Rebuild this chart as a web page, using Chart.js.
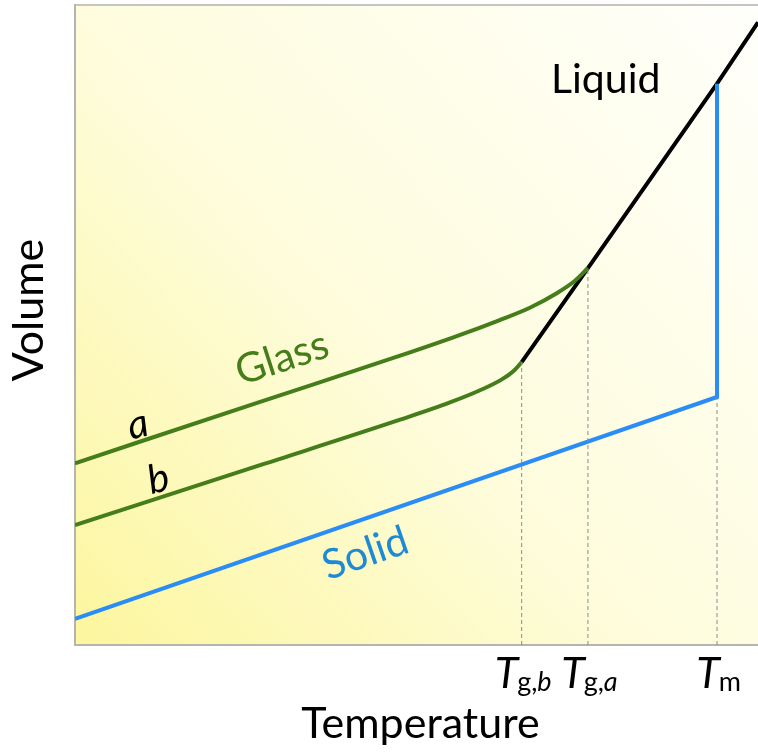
<!DOCTYPE html>
<html>
<head>
<meta charset="utf-8">
<title>Volume vs Temperature</title>
<script src="https://cdn.jsdelivr.net/npm/chart.js@4/dist/chart.umd.min.js"></script>
<style>
  html, body { margin: 0; padding: 0; background: #fff; }
  #wrap { width: 758px; height: 752px; }
</style>
</head>
<body>
<div id="wrap"><canvas id="vt_chart" width="758" height="752"></canvas></div>
<script>
// temperature / volume in arbitrary units (0..100 on both axes)
const tickTemps = [65.4, 75.1, 94.0];            // Tg,b  Tg,a  Tm
const solidT  = [0, 94.0, 94.0];
const solidV  = [4.1, 38.75, 87.7];
const liquidT = [65.4, 75.1, 94.0, 100];
const liquidV = [44.2, 58.9, 87.7, 97.3];
const glassAT = [0, 27.1, 47.6, 56.0, 62.0, 66.6, 70.6, 73.2, 75.1];
const glassAV = [28.4, 38.0, 45.2, 48.3, 50.7, 52.7, 55.0, 56.9, 58.9];
const glassBT = [0, 27.1, 47.6, 54.9, 59.3, 62.5, 64.3, 65.4];
const glassBV = [18.75, 28.1, 35.2, 37.9, 39.8, 41.5, 42.9, 44.2];
const dropV   = [44.2, 58.9, 38.75];              // where the dashed guides stop

const FONT = 'Lato, "Open Sans", sans-serif';
const GREEN = '#457d1b';
const BLUE = '#2a8cf5';

const pts = (xs, ys) => xs.map((x, i) => ({x: x, y: ys[i]}));

const line = (data, color, extra) => Object.assign({
  data: data,
  showLine: true,
  borderColor: color,
  borderWidth: 4,
  pointRadius: 0,
  tension: 0,
  fill: false
}, extra || {});

const datasets = [
  line(pts(solidT, solidV), BLUE),
  line(pts(glassAT, glassAV), GREEN, {cubicInterpolationMode: 'monotone'}),
  line(pts(glassBT, glassBV), GREEN, {cubicInterpolationMode: 'monotone'}),
  line(pts(liquidT, liquidV), '#000')
];
tickTemps.forEach((t, i) => {
  datasets.unshift(line([{x: t, y: 0}, {x: t, y: dropV[i]}], '#8c8c8c',
    {borderWidth: 1, borderDash: [4, 3]}));
});

// soft yellow wash behind the plot
const backdrop = {
  id: 'backdrop',
  beforeDraw(chart) {
    const {ctx, chartArea: a} = chart;
    const g = ctx.createLinearGradient(a.left, a.bottom, a.right, a.top);
    g.addColorStop(0, '#fcf69e');
    g.addColorStop(0.45, '#fefcdc');
    g.addColorStop(1, '#fffffb');
    ctx.save();
    ctx.fillStyle = g;
    ctx.fillRect(a.left, a.top, a.right - a.left, a.bottom - a.top);
    ctx.restore();
  }
};

// curve names, axis titles and the T-subscript tick labels
const tickLabels = [
  ['g,', 'b'],
  ['g,', 'a'],
  ['m', null]
];
const curveLabels = [
  {text: 'Liquid', t: 77.7, v: 88.3, angle: 0, color: '#000', font: '41px ' + FONT},
  {text: 'Glass', t: 30.3, v: 44.8, angle: -18, color: GREEN, font: '41px ' + FONT},
  {text: 'Solid', t: 42.5, v: 14.3, angle: -19, color: '#1e8ad6', font: '41px ' + FONT},
  {text: 'a', t: 9.2, v: 34.4, angle: -14, color: '#000', font: 'italic 40px ' + FONT},
  {text: 'b', t: 12.2, v: 25.9, angle: -14, color: '#000', font: 'italic 40px ' + FONT}
];

const annotate = {
  id: 'annotate',
  afterDraw(chart) {
    const {ctx, chartArea: a} = chart;
    const xs = chart.scales.x, ys = chart.scales.y;
    ctx.save();
    ctx.textBaseline = 'middle';
    ctx.textAlign = 'center';
    curveLabels.forEach(l => {
      ctx.save();
      ctx.translate(xs.getPixelForValue(l.t), ys.getPixelForValue(l.v));
      ctx.rotate(l.angle * Math.PI / 180);
      ctx.font = l.font;
      ctx.fillStyle = l.color;
      ctx.fillText(l.text, 0, 0);
      ctx.restore();
    });

    // axis titles
    ctx.fillStyle = '#000';
    ctx.font = '43px ' + FONT;
    ctx.textBaseline = 'alphabetic';
    ctx.fillText('Temperature', (a.left + a.right) / 2 + 4, 738);
    ctx.save();
    ctx.translate(43, 310);
    ctx.rotate(-Math.PI / 2);
    ctx.fillText('Volume', 0, 0);
    ctx.restore();

    // tick labels: italic T with a small subscript
    const mainFont = 'italic 43px ' + FONT;
    const subFont = '27px ' + FONT;
    const subItal = 'italic 27px ' + FONT;
    ctx.textAlign = 'left';
    tickTemps.forEach((t, i) => {
      const [s1, s2] = tickLabels[i];
      ctx.font = mainFont;  const w0 = ctx.measureText('T').width;
      ctx.font = subFont;   const w1 = ctx.measureText(s1).width;
      ctx.font = subItal;   const w2 = s2 ? ctx.measureText(s2).width : 0;
      let x = xs.getPixelForValue(t) - (w0 + w1 + w2) / 2 + 2;
      const base = 688;
      ctx.font = mainFont; ctx.fillText('T', x, base); x += w0 - 1;
      ctx.font = subFont;  ctx.fillText(s1, x, base + 3); x += w1;
      if (s2) { ctx.font = subItal; ctx.fillText(s2, x, base + 3); }
    });
    ctx.restore();
  }
};

const bareAxis = (pos, color) => ({
  type: 'linear', position: pos, min: 0, max: 100,
  grid: {display: false, drawTicks: false},
  ticks: {display: false},
  border: {display: true, color: color, width: 2}
});

new Chart(document.getElementById('vt_chart'), {
  type: 'scatter',
  data: {datasets: datasets},
  options: {
    responsive: false,
    animation: false,
    layout: {padding: {left: 75, top: 5, right: 0, bottom: 107}},
    plugins: {legend: {display: false}, tooltip: {enabled: false}},
    scales: {
      x: bareAxis('bottom', '#b5b5b0'),
      x2: bareAxis('top', '#c4c4c0'),
      y: bareAxis('left', '#b5b5b0')
    }
  },
  plugins: [backdrop, annotate]
});
</script>
</body>
</html>
